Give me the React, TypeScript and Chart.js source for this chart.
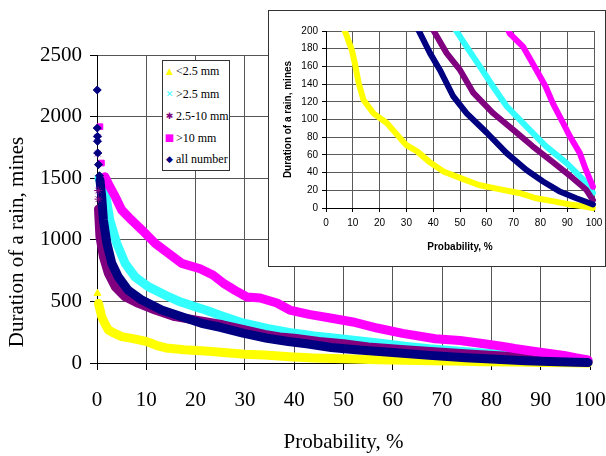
import React, { useEffect, useRef } from "react";
import { Chart, registerables } from "chart.js";
Chart.register(...registerables);

// ---------- data (probability %, duration min) ----------
const P_ALL_HEAD = [0.05, 0.05, 0.1, 0.1, 0.15, 0.3, 0.5];
const V_ALL_HEAD = [2216, 1907, 1840, 1800, 1705, 1610, 1520];
const P_ALL = [0.6, 0.95, 1.3, 2.0, 3.0, 4.3, 6.3, 9.1, 13.1, 17.2, 21.2, 25, 29.6, 34.5, 38.8, 42.5, 47.5, 52.5, 60, 67.4, 74.8, 81, 87, 93.4, 97, 99.6];
const V_ALL = [1485, 1350, 1160, 973, 810, 700, 592, 511, 430, 376, 322, 290, 243, 201, 175, 156, 126, 107, 85, 62, 43, 30, 19, 11, 7, 4];

const P_GT10_HEAD = [0.6, 0.9];
const V_GT10_HEAD = [1918, 1623];
const P_GT10 = [1.6, 2.6, 3.7, 5.0, 7.0, 9.1, 11.8, 14.5, 17.2, 20.9, 23.5, 25.6, 28, 30.4, 33.1, 36.5, 39.1, 43, 47.3, 51.9, 56.8, 62, 68.6, 73.6, 78.5, 82, 84.7, 88.5, 91, 94.7, 97, 99.6];
const V_GT10 = [1512, 1431, 1350, 1242, 1160, 1080, 971, 890, 809, 765, 714, 649, 590, 536, 528, 487, 430, 395, 365, 333, 284, 240, 197, 182, 156, 137, 118, 96, 81, 62, 43, 24];

const P_MID_HEAD = [0.1, 0.15, 0.25, 0.3];
const V_MID_HEAD = [1835, 1700, 1400, 1330];
const P_MID = [0.3, 0.6, 1.3, 2.3, 3.7, 5.7, 8.4, 11.8, 15.8, 19.9, 25.5, 30, 34, 37.1, 40, 45, 50, 55, 62.4, 70, 77, 85, 92, 97, 99.6];
const V_MID = [1250, 1025, 863, 728, 619, 538, 484, 430, 376, 349, 310, 268, 232, 211, 201, 175, 156, 130, 107, 88, 70, 51, 34, 21, 9];

const P_GT25 = [0.4, 1.0, 1.6, 2.6, 4.0, 5.7, 7.7, 10.4, 14.5, 17, 19.9, 22, 25.5, 29.6, 34.5, 39.8, 44, 48, 52.5, 57.4, 62.4, 67.4, 74.8, 82, 89.7, 96, 99.6];
const V_GT25 = [1500, 1450, 1404, 1160, 971, 809, 700, 620, 538, 495, 457, 430, 380, 325, 280, 243, 220, 203, 182, 160, 137, 115, 92, 70, 51, 32, 17];

const P_LT25_HEAD = [0.1];
const V_LT25_HEAD = [565];
const P_LT25 = [0.3, 0.95, 1.6, 2.3, 3.7, 5.0, 7.3, 9.7, 11, 12.2, 14, 17.7, 22.7, 25, 30, 34, 39, 44, 50, 57, 65, 72, 78.5, 85, 91, 96, 99.6];
const V_LT25 = [484, 376, 320, 268, 238, 214, 198, 178, 160, 141, 122, 107, 96, 88, 71, 64, 51, 41, 34, 26, 21, 17, 11, 7.5, 4, 2, 0];

const SERIES_LABELS = ["<2.5 mm", ">2.5 mm", "2.5-10 mm", ">10 mm", "all number"];
const COLORS = ["#FFFF00", "#33FFFF", "#800080", "#FF00FF", "#000080"];
const GLYPHS = ["\u25B2", "\u2715", "\u2731", "\u25A0", "\u25C6"];

const pts = (P: number[], V: number[]) => P.map((x, i) => ({ x, y: V[i] }));

function buildDatasets(lineW: number, headR: number, clip: any) {
  const curve = (P: number[], V: number[], c: string) => ({
    data: pts(P, V),
    showLine: true,
    borderColor: c,
    backgroundColor: c,
    borderWidth: lineW,
    pointRadius: 0,
    borderJoinStyle: "round",
    borderCapStyle: "round",
    tension: 0,
    clip,
  });
  const head = (P: number[], V: number[], c: string, style: string) => ({
    data: pts(P, V),
    showLine: false,
    pointStyle: style,
    pointRadius: headR,
    backgroundColor: c,
    borderColor: c,
    borderWidth: 1,
    clip,
  });
  return [
    head(P_ALL_HEAD, V_ALL_HEAD, COLORS[4], "rectRot"),
    head(P_GT10_HEAD, V_GT10_HEAD, COLORS[3], "rect"),
    head(P_MID_HEAD, V_MID_HEAD, COLORS[2], "star"),
    head(P_LT25_HEAD, V_LT25_HEAD, COLORS[0], "triangle"),
    curve(P_ALL, V_ALL, COLORS[4]),
    curve(P_GT10, V_GT10, COLORS[3]),
    curve(P_MID, V_MID, COLORS[2]),
    curve(P_GT25, V_GT25, COLORS[1]),
    curve(P_LT25, V_LT25, COLORS[0]),
  ];
}

const SERIF = "'Liberation Serif', 'Times New Roman', serif";
const SANS = "'Liberation Sans', Arial, sans-serif";

export default function App() {
  const mainRef = useRef<HTMLCanvasElement>(null);
  const insetRef = useRef<HTMLCanvasElement>(null);

  useEffect(() => {
    const main = new Chart(mainRef.current as HTMLCanvasElement, {
      type: "scatter",
      data: { datasets: buildDatasets(9, 4, false) as any },
      options: {
        animation: false,
        responsive: false,
        devicePixelRatio: 1,
        layout: { padding: { left: 0, right: 16, top: 55, bottom: 0 } },
        plugins: { legend: { display: false }, tooltip: { enabled: false } },
        scales: {
          x: {
            type: "linear",
            min: 0,
            max: 100,
            afterFit: (s: any) => { s.height = 93; s.paddingRight = 16; s.paddingLeft = 6; },
            ticks: { stepSize: 10, autoSkip: false, maxRotation: 0, color: "#000", padding: 18, font: { family: SERIF, size: 21 } },
            grid: { color: "#555", tickLength: 7, tickColor: "#000" },
            border: { color: "#000" },
            title: { display: true, text: "Probability, %", color: "#000", font: { family: SERIF, size: 21 }, padding: { top: 0, bottom: 1 } },
          },
          y: {
            min: 0,
            max: 2500,
            afterFit: (s: any) => { s.width = 97; },
            ticks: { stepSize: 500, color: "#000", padding: 8, font: { family: SERIF, size: 21 }, callback: (v: any) => String(v) },
            grid: { color: "#555", tickLength: 7, tickColor: "#000" },
            border: { color: "#000" },
            title: { display: true, align: "start", text: "   Duration of a rain, mines", color: "#000", font: { family: SERIF, size: 21 }, padding: { top: 5, bottom: 0 } },
          },
        },
      },
    } as any);

    const inset = new Chart(insetRef.current as HTMLCanvasElement, {
      type: "scatter",
      data: { datasets: buildDatasets(6, 3, { left: 3, right: 4, top: 0, bottom: 4 }) as any },
      options: {
        animation: false,
        responsive: false,
        devicePixelRatio: 1,
        layout: { padding: { left: 0, right: 11, top: 20, bottom: 0 } },
        plugins: { legend: { display: false }, tooltip: { enabled: false } },
        scales: {
          x: {
            type: "linear",
            min: 0,
            max: 100,
            afterFit: (s: any) => { s.height = 58; s.paddingRight = 11; },
            ticks: { stepSize: 10, autoSkip: false, maxRotation: 0, color: "#000", padding: 5, font: { family: SANS, size: 10 } },
            grid: { color: "#5a5a5a", tickLength: 4, tickColor: "#000" },
            border: { color: "#000" },
            title: { display: true, text: "Probability, %", color: "#000", font: { family: SANS, size: 10, weight: "bold" }, padding: { top: 0, bottom: 13 } },
          },
          y: {
            min: 0,
            max: 200,
            afterFit: (s: any) => { s.width = 57; },
            ticks: { stepSize: 20, color: "#000", padding: 4, font: { family: SANS, size: 10 } },
            grid: { color: "#5a5a5a", tickLength: 4, tickColor: "#000" },
            border: { color: "#000" },
            title: { display: true, text: "Duration of a rain, mines", color: "#000", font: { family: SANS, size: 10, weight: "bold" }, padding: { top: 13, bottom: 0 } },
          },
        },
      },
    } as any);

    return () => {
      main.destroy();
      inset.destroy();
    };
  }, []);

  const rowCenters = [10, 33, 55, 77, 98];

  return (
    <div style={{ position: "fixed", left: 0, top: 0, width: 606, height: 456, background: "#fff", overflow: "hidden" }}>
      <canvas ref={mainRef} width={606} height={456} style={{ position: "absolute", left: 0, top: 0, width: 606, height: 456 }} />
      <div style={{ position: "absolute", left: 162, top: 60, width: 68, height: 111, border: "1px solid #333", background: "#fff", boxSizing: "border-box" }}>
        {SERIES_LABELS.map((lab, i) => (
          <div key={lab} style={{ position: "absolute", left: 0, top: rowCenters[i] - 8, height: 16, lineHeight: "16px", whiteSpace: "nowrap" }}>
            <span style={{ position: "absolute", left: 1, width: 11, textAlign: "center", color: COLORS[i], fontFamily: "'DejaVu Sans', sans-serif", fontSize: i === 3 ? 10 : 9 }}>{GLYPHS[i]}</span>
            <span style={{ position: "absolute", left: 13, fontFamily: SERIF, fontSize: 12, color: "#000" }}>{lab}</span>
          </div>
        ))}
      </div>
      <div style={{ position: "absolute", left: 268, top: 10, width: 338, height: 257, border: "1px solid #333", background: "#fff", boxSizing: "border-box" }}>
        <canvas ref={insetRef} width={336} height={255} style={{ display: "block", width: 336, height: 255 }} />
      </div>
    </div>
  );
}
